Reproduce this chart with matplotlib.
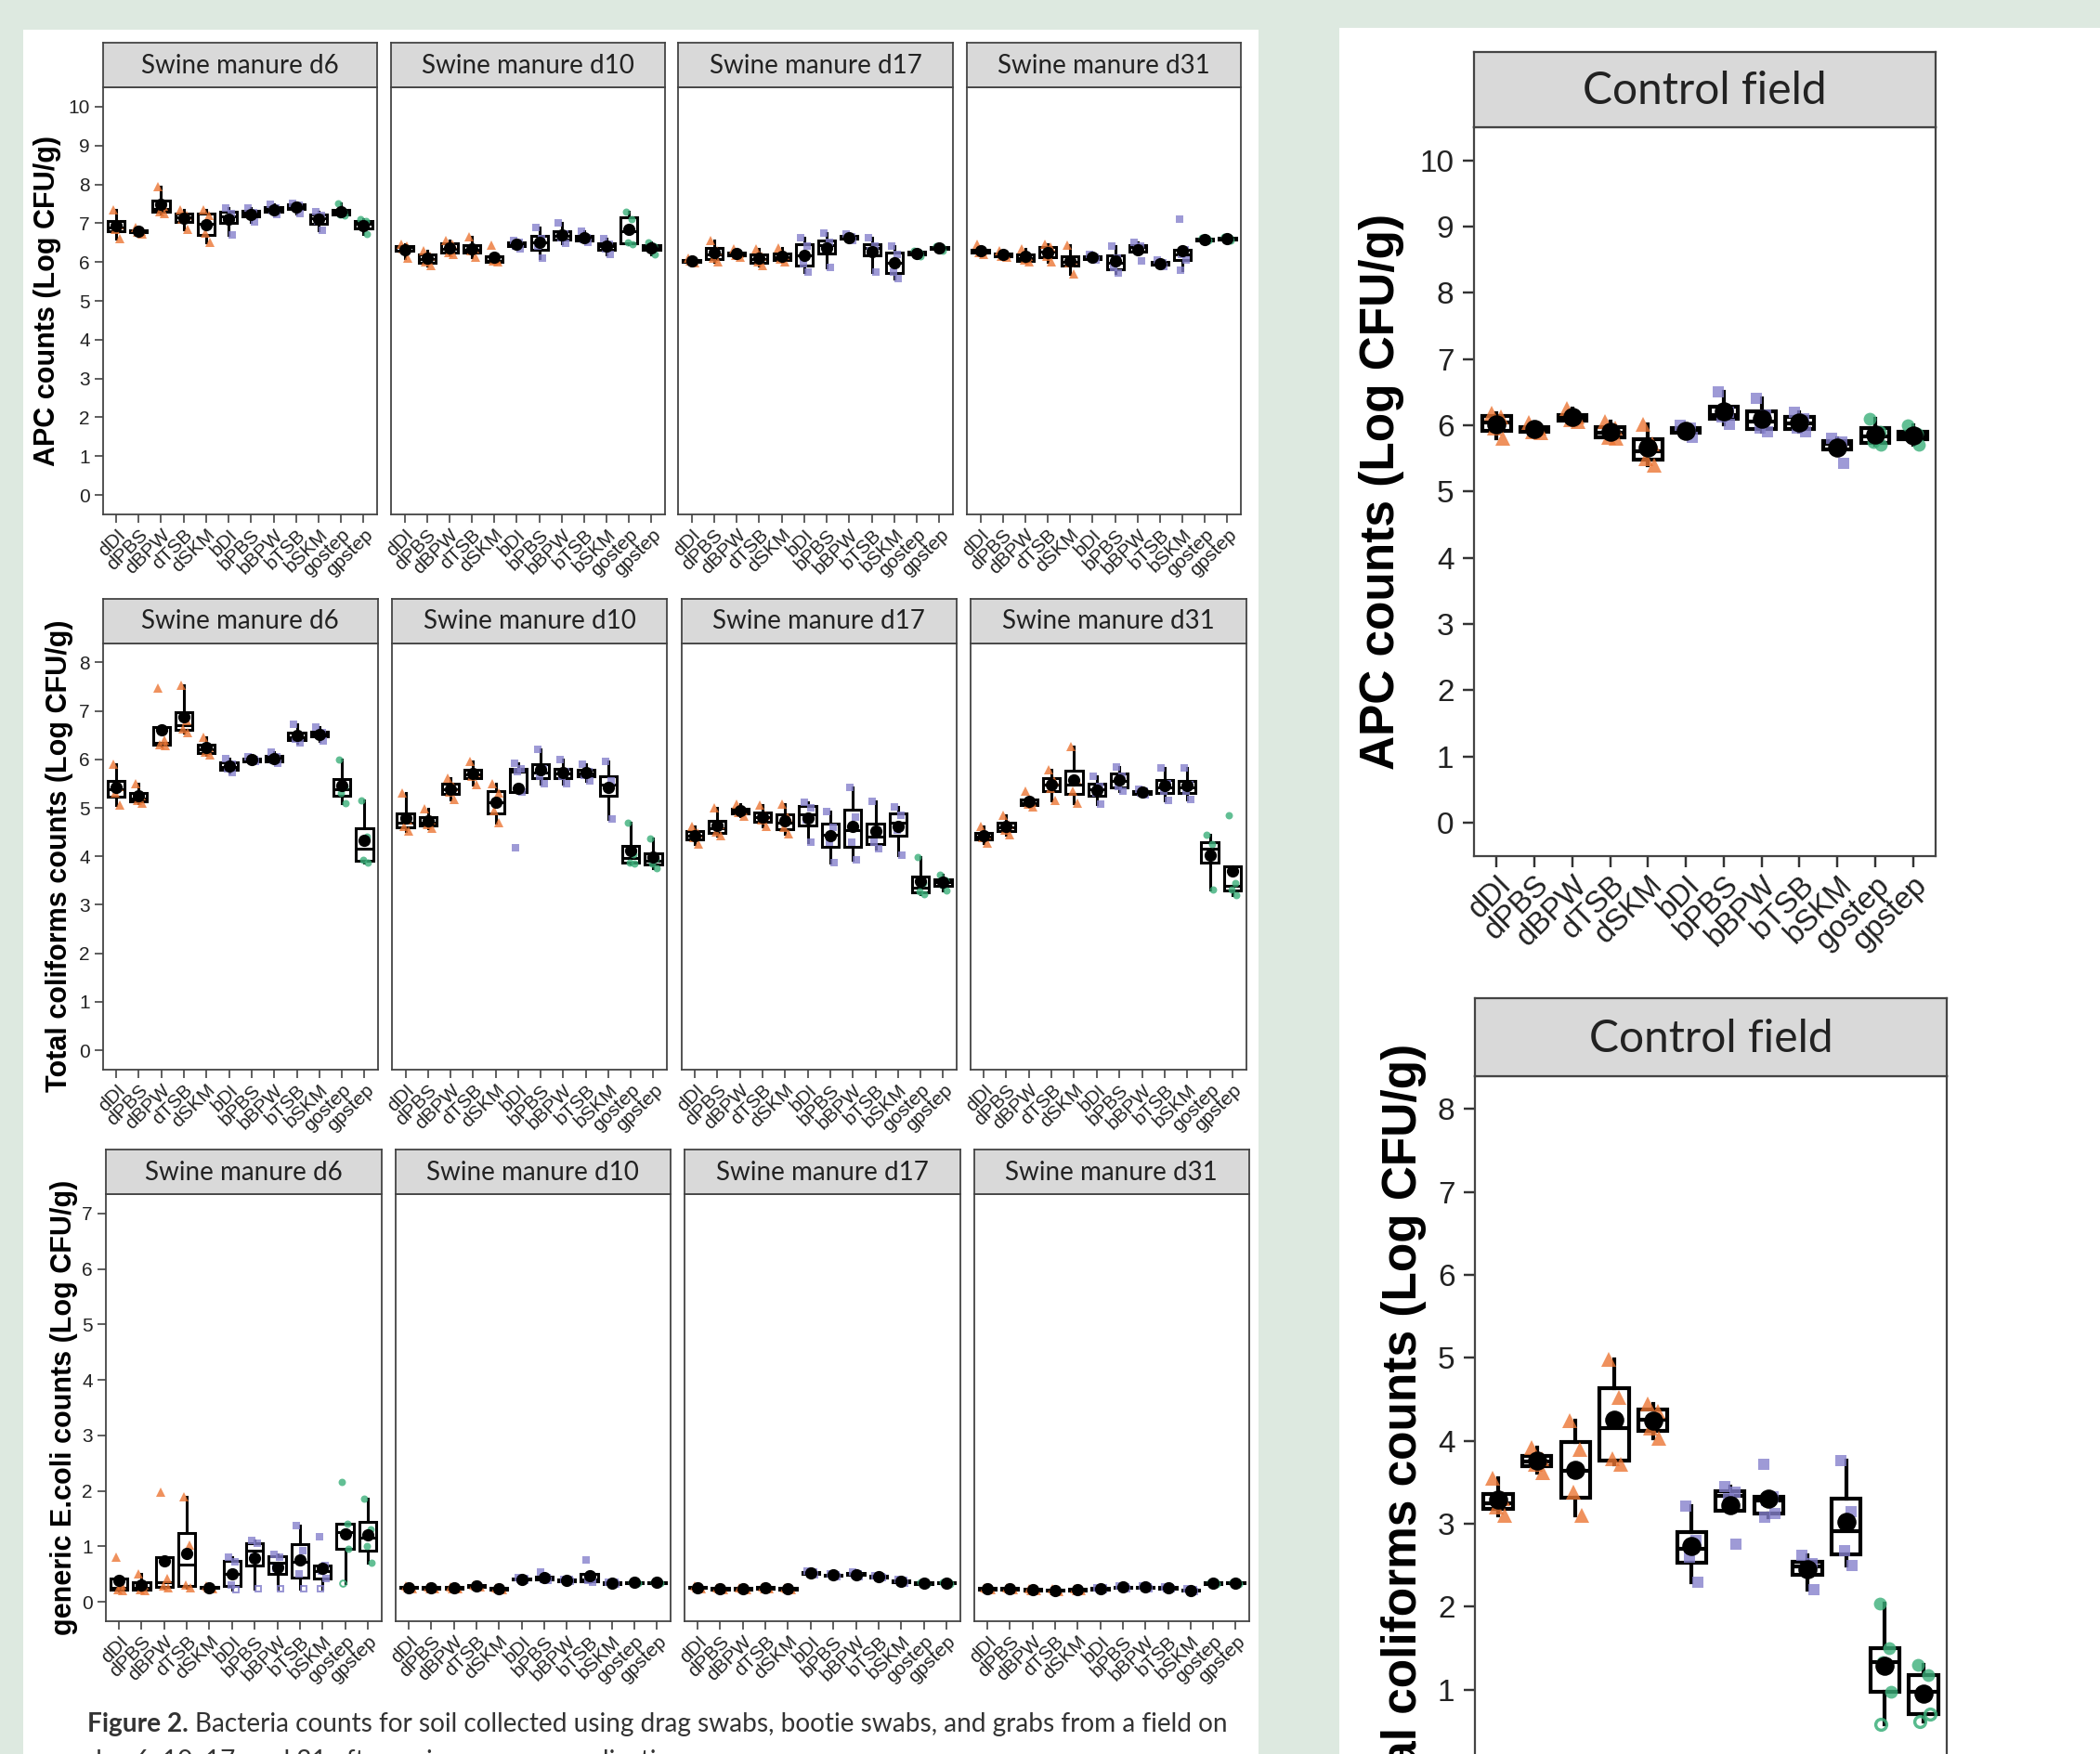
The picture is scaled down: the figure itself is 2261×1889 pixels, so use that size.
import numpy as np
import matplotlib.pyplot as plt
from matplotlib.patches import Rectangle

W, H = 2261, 1889

methods = ["dDI", "dPBS", "dBPW", "dTSB", "dSKM", "bDI", "bPBS", "bBPW",
           "bTSB", "bSKM", "gostep", "gpstep"]
swab = ["drag"] * 5 + ["bootie"] * 5 + ["grab"] * 2
days = ["Swine manure d6", "Swine manure d10", "Swine manure d17", "Swine manure d31"]

# replicate counts (Log CFU/g), one list per method
apc_d6 = [[7.35, 6.95, 6.85, 6.6], [6.9, 6.8, 6.78, 6.72], [7.95, 7.45, 7.3, 7.25],
          [7.35, 7.2, 7.1, 6.85], [7.35, 7.2, 6.75, 6.5], [7.4, 7.25, 7.1, 6.7],
          [7.4, 7.28, 7.22, 7.03], [7.48, 7.38, 7.33, 7.22], [7.5, 7.47, 7.42, 7.25],
          [7.3, 7.2, 7.05, 6.82], [7.5, 7.3, 7.22, 7.2], [7.1, 7.05, 6.9, 6.72]]
apc_d10 = [[6.45, 6.4, 6.35, 6.1], [6.3, 6.15, 6.0, 5.92], [6.55, 6.45, 6.25, 6.2],
           [6.65, 6.35, 6.28, 6.12], [6.43, 6.05, 6.02, 6.0], [6.55, 6.5, 6.42, 6.35],
           [6.9, 6.6, 6.4, 6.1], [7.0, 6.72, 6.62, 6.48], [6.8, 6.62, 6.58, 6.5],
           [6.6, 6.45, 6.35, 6.2], [7.3, 7.1, 6.5, 6.45], [6.5, 6.4, 6.35, 6.2]]
apc_d17 = [[6.1, 6.05, 6.02, 5.98], [6.55, 6.3, 6.1, 6.0], [6.35, 6.22, 6.18, 6.12],
           [6.35, 6.15, 6.0, 5.92], [6.37, 6.18, 6.08, 6.0], [6.62, 6.4, 5.95, 5.75],
           [6.75, 6.5, 6.35, 5.85], [6.72, 6.66, 6.62, 6.55], [6.62, 6.42, 6.3, 5.75],
           [6.42, 6.2, 5.75, 5.58], [6.3, 6.25, 6.2, 6.15], [6.42, 6.38, 6.35, 6.3]]
apc_d31 = [[6.45, 6.28, 6.25, 6.2], [6.3, 6.2, 6.15, 6.12], [6.35, 6.15, 6.05, 6.0],
           [6.45, 6.38, 6.15, 6.0], [6.43, 6.05, 5.98, 5.7], [6.2, 6.12, 6.1, 6.05],
           [6.4, 6.1, 5.85, 5.72], [6.5, 6.4, 6.35, 6.02], [6.05, 5.98, 5.95, 5.88],
           [7.1, 6.32, 6.2, 6.05, 5.8], [6.62, 6.6, 6.57, 6.55], [6.65, 6.62, 6.6, 6.55]]

tc_d6 = [[5.9, 5.45, 5.3, 5.05], [5.5, 5.25, 5.15, 5.1], [7.48, 6.4, 6.3, 6.28],
         [7.53, 6.8, 6.62, 6.55], [6.45, 6.25, 6.15, 6.1], [6.02, 5.9, 5.8, 5.72],
         [6.05, 6.0, 5.97, 5.95], [6.15, 6.05, 5.98, 5.92], [6.72, 6.5, 6.42, 6.35],
         [6.67, 6.55, 6.5, 6.37], [6.0, 5.45, 5.3, 5.1], [5.15, 4.4, 3.92, 3.88]]
tc_d10 = [[5.3, 4.75, 4.62, 4.52], [4.98, 4.75, 4.65, 4.58], [5.62, 5.45, 5.32, 5.18],
          [5.95, 5.72, 5.65, 5.48], [5.5, 5.3, 4.95, 4.7], [5.92, 5.8, 5.75, 5.33, 4.18],
          [6.2, 5.8, 5.65, 5.5], [6.0, 5.75, 5.65, 5.5], [5.9, 5.75, 5.68, 5.55],
          [5.95, 5.55, 5.4, 4.77], [4.7, 4.05, 3.88, 3.85], [4.37, 3.95, 3.85, 3.75]]
tc_d17 = [[4.62, 4.48, 4.38, 4.25], [5.0, 4.65, 4.5, 4.42], [5.08, 4.95, 4.9, 4.82],
          [5.05, 4.85, 4.75, 4.62], [5.08, 4.8, 4.6, 4.47], [5.12, 5.0, 4.75, 4.3],
          [4.92, 4.6, 4.3, 3.88], [5.42, 4.8, 4.3, 3.92], [5.14, 4.52, 4.3, 4.15],
          [5.02, 4.85, 4.55, 4.02], [3.98, 3.45, 3.27, 3.22], [3.62, 3.5, 3.42, 3.3]]
tc_d31 = [[4.62, 4.45, 4.38, 4.28], [4.85, 4.65, 4.55, 4.45], [5.35, 5.12, 5.08, 5.02],
          [5.78, 5.55, 5.4, 5.15], [6.27, 5.6, 5.35, 5.1], [5.65, 5.45, 5.3, 5.08],
          [5.85, 5.65, 5.45, 5.35], [5.38, 5.34, 5.3, 5.27], [5.82, 5.5, 5.35, 5.15],
          [5.82, 5.48, 5.35, 5.18], [4.45, 4.25, 4.05, 3.32], [4.84, 3.45, 3.32, 3.2]]

ec_d6 = [[0.8, 0.3, 0.22, 0.2], [0.5, 0.3, 0.22, 0.2], [1.97, 0.42, 0.28, 0.25],
         [1.9, 1.03, 0.3, 0.25], [0.28, 0.26, 0.25, 0.24], [0.8, 0.72, 0.3],
         [1.1, 1.05, 0.8], [0.86, 0.8, 0.6], [1.38, 0.93, 0.5],
         [1.17, 0.65, 0.55, 0.42], [2.16, 1.4, 1.25, 0.95], [1.86, 1.3, 1.0, 0.7]]
ec_d6_lod = [[], [], [], [], [], [0.22], [0.23], [0.23], [0.23], [0.23], [0.33], []]
ec_d10 = [[0.28, 0.27, 0.25, 0.24], [0.27, 0.26, 0.24, 0.23], [0.27, 0.26, 0.24, 0.23],
          [0.31, 0.3, 0.28, 0.27], [0.26, 0.25, 0.23, 0.22], [0.44, 0.42, 0.4, 0.38],
          [0.54, 0.43, 0.41, 0.39], [0.41, 0.4, 0.38, 0.37], [0.75, 0.42, 0.38, 0.36],
          [0.36, 0.35, 0.33, 0.32], [0.36, 0.35, 0.34, 0.33], [0.36, 0.35, 0.34, 0.33]]
ec_d17 = [[0.28, 0.27, 0.25, 0.24], [0.26, 0.25, 0.23, 0.22], [0.26, 0.25, 0.23, 0.22],
          [0.27, 0.26, 0.24, 0.23], [0.26, 0.25, 0.23, 0.22], [0.55, 0.53, 0.51, 0.49],
          [0.5, 0.49, 0.47, 0.46], [0.53, 0.51, 0.49, 0.45], [0.47, 0.46, 0.44, 0.43],
          [0.4, 0.38, 0.36, 0.34], [0.36, 0.35, 0.33, 0.32], [0.36, 0.35, 0.34, 0.32]]
ec_d31 = [[0.26, 0.25, 0.23, 0.22], [0.26, 0.25, 0.23, 0.22], [0.24, 0.23, 0.21, 0.2],
          [0.23, 0.22, 0.2, 0.19], [0.24, 0.23, 0.21, 0.2], [0.26, 0.25, 0.23, 0.22],
          [0.29, 0.27, 0.25, 0.24], [0.29, 0.27, 0.25, 0.24], [0.27, 0.26, 0.24, 0.23],
          [0.23, 0.22, 0.2, 0.19], [0.36, 0.35, 0.33, 0.32], [0.36, 0.35, 0.34, 0.32]]

ctrl_apc = [[6.18, 6.12, 5.95, 5.8], [6.04, 5.95, 5.9, 5.88], [6.25, 6.12, 6.08, 6.05],
            [6.05, 5.95, 5.82, 5.8], [6.02, 5.72, 5.5, 5.4], [6.0, 5.95, 5.9, 5.82],
            [6.5, 6.2, 6.12, 6.02], [6.4, 6.15, 5.95, 5.9], [6.2, 6.1, 5.95, 5.9],
            [5.8, 5.75, 5.7, 5.42], [6.1, 5.9, 5.75, 5.7], [6.0, 5.87, 5.82, 5.7]]
ctrl_tc = [[3.55, 3.3, 3.2, 3.1], [3.92, 3.78, 3.72, 3.62], [4.24, 3.9, 3.38, 3.1],
           [4.98, 4.52, 3.78, 3.72], [4.45, 4.35, 4.15, 4.03], [3.21, 2.8, 2.6, 2.3],
           [3.45, 3.38, 3.3, 2.75], [3.72, 3.33, 3.28, 3.12, 3.08], [2.62, 2.52, 2.45, 2.2],
           [3.76, 3.15, 2.68, 2.5], [2.04, 1.5, 1.33, 0.97], [1.3, 1.18, 0.97]]
ctrl_tc_lod = [[], [], [], [], [], [], [], [], [], [], [0.58], [0.7, 0.62]]

colors = {"drag": "#EC7634", "bootie": "#8681CC", "grab": "#3BAF7A"}
markers = {"drag": "^", "bootie": "s", "grab": "o"}
JIT = [-0.14, 0.12, -0.05, 0.16, -0.1, 0.05]
EDGE = "#333333"


def rect(x0, y0, x1, y1):
    return [x0 / W, 1 - y1 / H, (x1 - x0) / W, (y1 - y0) / H]


def draw_panel(fig, box, strip_y0, title, pts, lod, ylim, yticks, big=False,
               show_y=True, show_x=True):
    x0, y0, x1, y1 = box
    s = 1.0 if not big else 1.75
    ax = fig.add_axes(rect(x0, y0, x1, y1))
    if lod is None:
        lod = [[] for _ in pts]
    vals = [p + l for p, l in zip(pts, lod)]
    pos = np.arange(1, 13)
    lw = 2.2 if not big else 3.0
    bp = ax.boxplot(vals, positions=pos, widths=0.75, showfliers=False,
                    showcaps=False, showmeans=True, patch_artist=True, whis=1.5,
                    boxprops=dict(facecolor="white", edgecolor="black", linewidth=lw),
                    medianprops=dict(color="black", linewidth=lw),
                    whiskerprops=dict(color="black", linewidth=lw),
                    meanprops=dict(marker="o", markerfacecolor="black",
                                   markeredgecolor="black",
                                   markersize=8.5 if not big else 13.8),
                    zorder=2)
    for m in bp["means"]:
        m.set_zorder(5)
    for i, (p, l) in enumerate(zip(pts, lod)):
        kind = swab[i]
        mk = markers[kind]
        ms = {"^": 6.8, "s": 5.2, "o": 5.7}[mk] * s
        xs = [pos[i] + JIT[k % len(JIT)] for k in range(len(p))]
        ax.plot(xs, p, linestyle="none", marker=mk, markersize=ms,
                markerfacecolor=colors[kind], markeredgewidth=0, alpha=0.8, zorder=3)
        if l:
            xo = [pos[i] + JIT[(k + len(p)) % len(JIT)] for k in range(len(l))]
            ax.plot(xo, l, linestyle="none", marker=mk, markersize=ms * 0.85,
                    markerfacecolor="none", markeredgecolor=colors[kind],
                    markeredgewidth=1.4 * s, alpha=0.85, zorder=3)
    ax.set_xlim(0.4, 12.6)
    ax.set_ylim(*ylim)
    ax.set_yticks(yticks)
    ax.set_xticks(pos)
    ax.set_xticklabels(methods, rotation=45, ha="right", va="top",
                       rotation_mode="anchor", family="Liberation Sans")
    for t in ax.get_yticklabels():
        t.set_family("Liberation Sans")
    ax.tick_params(axis="both", direction="out", color=EDGE, labelcolor="#222222",
                   length=6.8 * (1.25 if big else 1), width=1.1 * (1.6 if big else 1))
    ax.tick_params(axis="y", labelsize=24 if big else 15, pad=7 if big else 3)
    ax.tick_params(axis="x", labelsize=23.5 if big else 15, pad=3 if big else 2)
    if not show_y:
        ax.tick_params(axis="y", left=False, labelleft=False)
    if not show_x:
        ax.tick_params(axis="x", labelbottom=False)
    for sp in ax.spines.values():
        sp.set_color("#444444")
        sp.set_linewidth(1.6 if big else 1.3)

    sax = fig.add_axes(rect(x0, strip_y0, x1, y0))
    sax.set_facecolor("#d9d9d9")
    sax.set_xticks([])
    sax.set_yticks([])
    for sp in sax.spines.values():
        sp.set_color("#444444")
        sp.set_linewidth(1.6 if big else 1.3)
    sax.text(0.5, 0.48, title, ha="center", va="center", family="Lato",
             size=34.5 if big else 20, color="#222222", transform=sax.transAxes)
    return ax


fig = plt.figure(figsize=(W / 100, H / 100), dpi=100)
fig.patch.set_facecolor("#dde9e0")
fig.add_artist(Rectangle((25 / W, 0), (1355 - 25) / W, 1 - 32 / H,
                         transform=fig.transFigure, facecolor="white",
                         edgecolor="none", zorder=-10))
fig.add_artist(Rectangle((1442 / W, 0), (W - 1442) / W, 1 - 30 / H,
                         transform=fig.transFigure, facecolor="white",
                         edgecolor="none", zorder=-10))

rows = [
    dict(label="APC counts (Log CFU/g)", data=[apc_d6, apc_d10, apc_d17, apc_d31],
         lod=[None] * 4, ylim=(-0.5, 10.5), ticks=range(0, 11),
         strip=46, y0=94, y1=554, lx=51,
         xs=[(110.5, 406), (421, 716), (730, 1026), (1041, 1336)]),
    dict(label="Total coliforms counts (Log CFU/g)", data=[tc_d6, tc_d10, tc_d17, tc_d31],
         lod=[None] * 4, ylim=(-0.4, 8.4), ticks=range(0, 9),
         strip=644.5, y0=692.5, y1=1152, lx=64,
         xs=[(110.5, 407), (422, 718), (733.5, 1030), (1044.5, 1341.5)]),
    dict(label="generic E.coli counts (Log CFU/g)", data=[ec_d6, ec_d10, ec_d17, ec_d31],
         lod=[ec_d6_lod, None, None, None], ylim=(-0.35, 7.35), ticks=range(0, 8),
         strip=1238, y0=1286, y1=1746, lx=69,
         xs=[(113.5, 410.5), (425.5, 722), (736.5, 1033.5), (1048.5, 1345)]),
]

for row in rows:
    for j in range(4):
        xa, xb = row["xs"][j]
        draw_panel(fig, (xa, row["y0"], xb, row["y1"]), row["strip"], days[j],
                   row["data"][j], row["lod"][j], row["ylim"], row["ticks"],
                   show_y=(j == 0))
    fig.text(row["lx"] / W, 1 - (row["y0"] + row["y1"]) / 2 / H, row["label"],
             rotation=90, ha="center", va="center", family="Liberation Sans",
             weight="bold", size=22, color="black")

# control field panels
draw_panel(fig, (1587, 137, 2084, 921.5), 56, "Control field", ctrl_apc, None,
           (-0.5, 10.5), range(0, 11), big=True)
fig.text(1488 / W, 1 - (137 + 921.5) / 2 / H, "APC counts (Log CFU/g)", rotation=90,
         ha="center", va="center", family="Liberation Sans", weight="bold",
         size=37, color="black")
# lower control panel runs past the bottom edge, its x labels are not visible
draw_panel(fig, (1588, 1158.7, 2096, 1944.7), 1075.4, "Control field", ctrl_tc,
           ctrl_tc_lod, (-0.4, 8.4), range(0, 9), big=True, show_x=False)
fig.text(1511 / W, 1 - (1158.7 + 1944.7) / 2 / H, "Total coliforms counts (Log CFU/g)",
         rotation=90, ha="center", va="center", family="Liberation Sans",
         weight="bold", size=37, color="black")

# caption
cap = fig.text(94 / W, 1 - 1865 / H, "Figure 2.", ha="left", va="baseline",
               family="Lato", weight="bold", size=20.2, color="#333333")
fig.canvas.draw()
bb = cap.get_window_extent()
fig.text((bb.x1 + 7) / W, 1 - 1865 / H,
         "Bacteria counts for soil collected using drag swabs, bootie swabs, and grabs from a field on",
         ha="left", va="baseline", family="Lato", size=20.2, color="#333333")
fig.text(94 / W, 1 - 1905 / H, "day 6, 10, 17, and 31 after swine manure application.",
         ha="left", va="baseline", family="Lato", size=20.2, color="#333333")

fig.savefig("out.png", dpi=100, facecolor=fig.get_facecolor())
